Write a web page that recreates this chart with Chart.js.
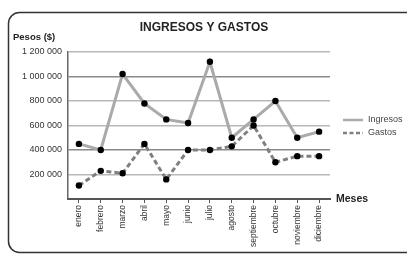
<!DOCTYPE html>
<html>
<head>
<meta charset="utf-8">
<script src="https://cdn.jsdelivr.net/npm/chart.js@4"></script>
<style>
html,body{margin:0;padding:0;background:#fff;}
#wrap{width:407px;height:255px;}
</style>
</head>
<body>
<div id="wrap"><canvas id="c" width="407" height="255"></canvas></div>
<script>
const months = ['enero','febrero','marzo','abril','mayo','junio','julio','agosto','septiembre','octubre','noviembre','diciembre'];
const ingresos = [450000, 400000, 1020000, 780000, 650000, 620000, 1120000, 500000, 650000, 800000, 500000, 550000];
const gastos = [110000, 230000, 210000, 450000, 160000, 400000, 400000, 430000, 600000, 300000, 350000, 350000];
const yTicks = [0, 200000, 400000, 600000, 800000, 1000000, 1200000];
const seriesNames = ['Ingresos', 'Gastos'];
const chartTitle = 'INGRESOS Y GASTOS';
const yTitle = 'Pesos ($)';
const xTitle = 'Meses';

const FONT = '"Liberation Sans", Arial, sans-serif';

function fmt(v){
  if (v === 0) return '';
  return String(v).replace(/\B(?=(\d{3})+(?!\d))/g, ' ');
}

const decor = {
  id: 'decor',
  beforeDraw(chart){
    const ctx = chart.ctx;
    ctx.save();
    ctx.fillStyle = '#fff';
    ctx.fillRect(0,0,chart.width,chart.height);
    ctx.strokeStyle = '#333';
    ctx.lineWidth = 1.5;
    ctx.beginPath();
    ctx.roundRect(8.5, 12.5, 420, 240, 11);
    ctx.stroke();
    ctx.restore();
  },
  afterDraw(chart){
    const ctx = chart.ctx;
    ctx.save();
    ctx.fillStyle = '#222';
    ctx.textBaseline = 'middle';
    ctx.font = 'bold 12px ' + FONT;
    ctx.textAlign = 'center';
    ctx.fillText(chartTitle, 204, 28);
    ctx.textAlign = 'left';
    ctx.font = 'bold 9.5px ' + FONT;
    ctx.fillText(yTitle, 13, 37);
    ctx.font = 'bold 10.5px ' + FONT;
    ctx.fillText(xTitle, 336, 199);
    // legend
    ctx.font = '9px ' + FONT;
    ctx.fillStyle = '#444';
    const ds = chart.data.datasets;
    const ly = [120, 133];
    for (let i = 0; i < 2; i++) {
      ctx.strokeStyle = ds[i].borderColor;
      ctx.lineWidth = 2.5;
      ctx.setLineDash(i === 1 ? [4, 2.5] : []);
      ctx.beginPath();
      ctx.moveTo(343, ly[i]);
      ctx.lineTo(363, ly[i]);
      ctx.stroke();
      ctx.setLineDash([]);
      ctx.fillText(seriesNames[i], 368, ly[i]);
    }
    ctx.restore();
  }
};

new Chart(document.getElementById('c'), {
  type: 'line',
  data: {
    labels: months,
    datasets: [
      {
        label: seriesNames[0],
        data: ingresos,
        borderColor: '#aaaaaa',
        borderWidth: 3,
        pointBackgroundColor: '#000',
        pointBorderWidth: 0,
        pointRadius: 3.2,
        tension: 0,
        order: 2
      },
      {
        label: seriesNames[1],
        data: gastos,
        borderColor: '#808080',
        borderWidth: 3,
        borderDash: [5, 3],
        pointBackgroundColor: '#000',
        pointBorderWidth: 0,
        pointRadius: 3.2,
        tension: 0,
        order: 1
      }
    ]
  },
  options: {
    responsive: false,
    animation: false,
    devicePixelRatio: 1,
    layout: { padding: { left: 0, right: 77, top: 52, bottom: 0 } },
    plugins: {
      legend: { display: false },
      title: { display: false },
      tooltip: { enabled: false }
    },
    scales: {
      x: {
        type: 'category',
        offset: true,
        afterFit(s){ s.height = 56; },
        grid: {
          offset: false,
          drawOnChartArea: false,
          drawTicks: true,
          tickLength: 4,
          color: '#555'
        },
        border: { display: true, color: '#555', width: 2 },
        ticks: {
          minRotation: 90,
          maxRotation: 90,
          autoSkip: false,
          padding: 2,
          color: '#333',
          font: { family: FONT, size: 8.5 }
        }
      },
      y: {
        min: 0,
        max: 1200000,
        afterFit(s){ s.width = 68; },
        afterBuildTicks(s){ s.ticks = yTicks.map(v => ({ value: v })); },
        grid: {
          drawTicks: false,
          color: (c) => (c.tick && (c.tick.value === 1000000 || c.tick.value === 400000)) ? '#8a8a8a' : '#b8b8b8',
          lineWidth: (c) => (c.tick && c.tick.value === 0) ? 0 : 1.5
        },
        border: { display: true, color: '#666', width: 1.5 },
        ticks: {
          padding: 6,
          color: '#333',
          font: { family: FONT, size: 9 },
          callback: (v) => fmt(v)
        }
      }
    }
  },
  plugins: [decor]
});
</script>
</body>
</html>
